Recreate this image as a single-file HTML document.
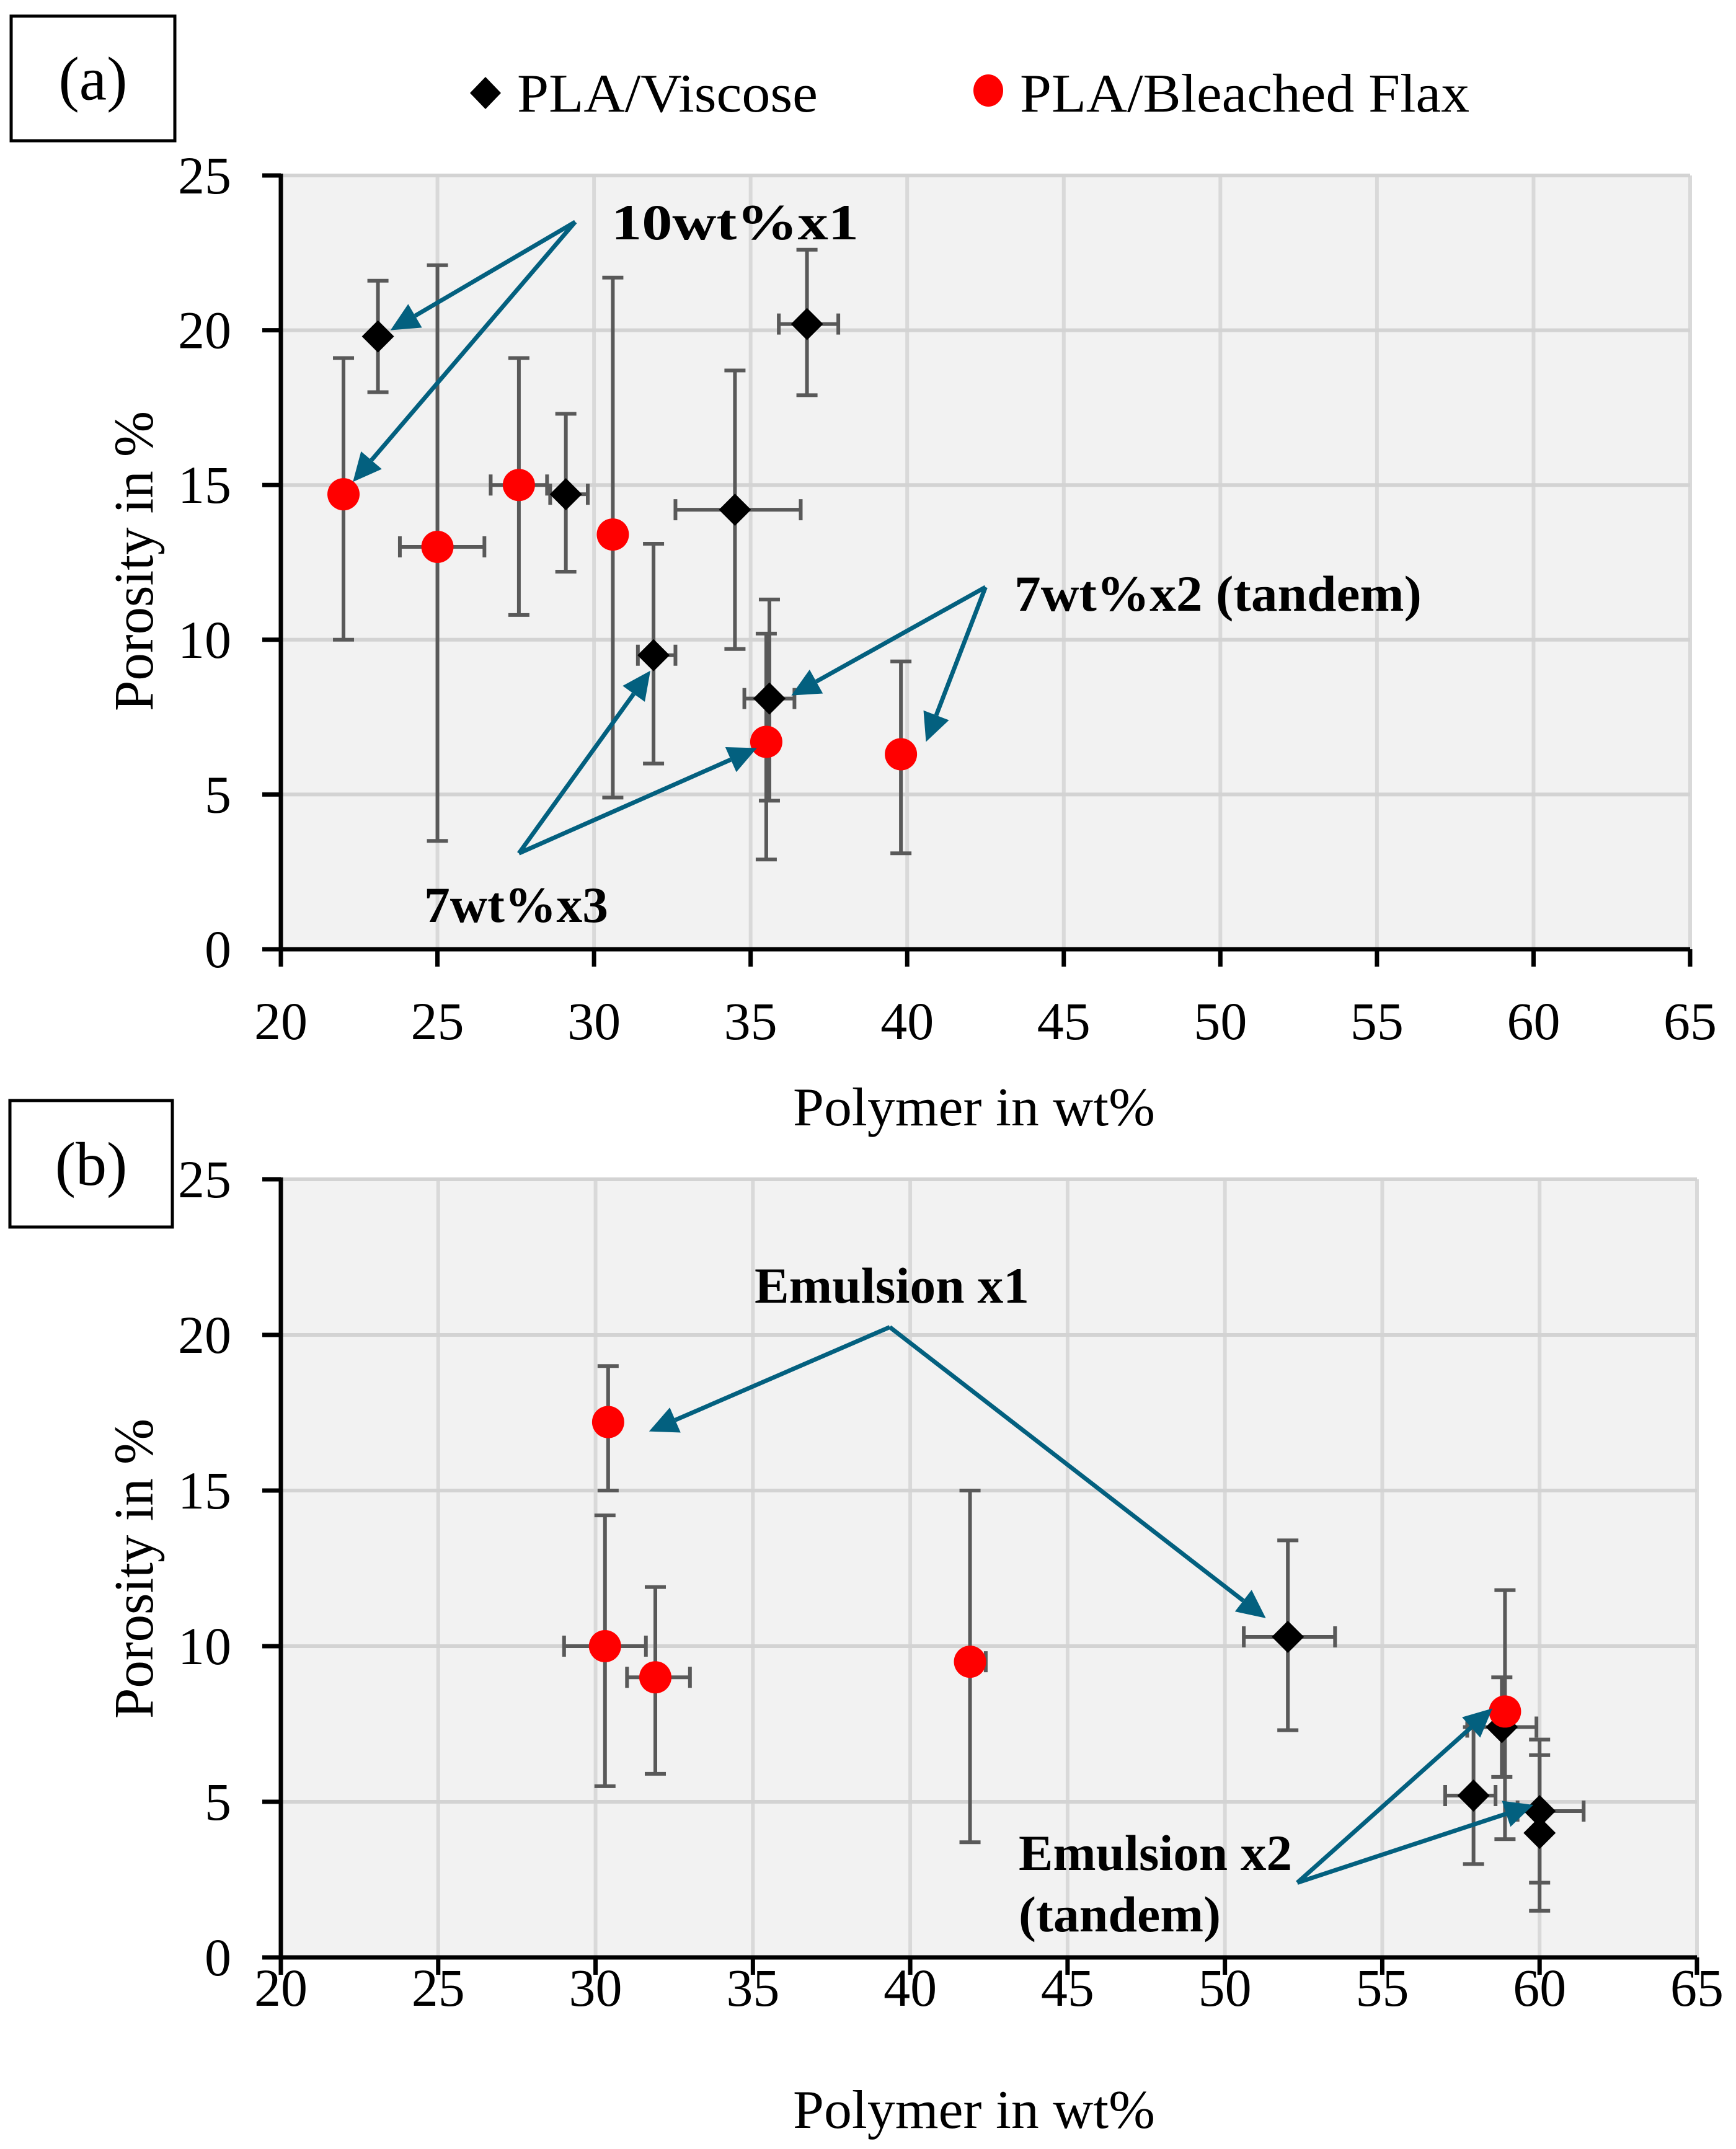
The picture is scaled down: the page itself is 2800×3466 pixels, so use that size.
<!DOCTYPE html>
<html><head><meta charset="utf-8"><style>
html,body{margin:0;padding:0;background:#fff;}
svg{display:block;}
text{font-family:"Liberation Serif",serif;fill:#000;}
</style></head><body>
<svg id="chart" xmlns="http://www.w3.org/2000/svg" width="2800" height="3466" viewBox="0 0 2800 3466"></svg>
<script>
// ---- Panel (a) data ----
const aViscX = [23.1, 36.8, 29.1, 34.5, 31.9, 35.6];
const aViscY = [19.8, 20.2, 14.7, 14.2, 9.5, 8.1];
const aViscXLo = [23.1, 35.9, 28.6, 32.6, 31.4, 34.8];
const aViscXHi = [23.1, 37.8, 29.8, 36.6, 32.6, 36.4];
const aViscYLo = [18.0, 17.9, 12.2, 9.7, 6.0, 4.8];
const aViscYHi = [21.6, 22.6, 17.3, 18.7, 13.1, 11.3];
const aFlaxX = [22.0, 25.0, 27.6, 30.6, 35.5, 39.8];
const aFlaxY = [14.7, 13.0, 15.0, 13.4, 6.7, 6.3];
const aFlaxXLo = [22.0, 23.8, 26.7, 30.6, 35.5, 39.8];
const aFlaxXHi = [22.0, 26.5, 28.5, 30.6, 35.5, 39.8];
const aFlaxYLo = [10.0, 3.5, 10.8, 4.9, 2.9, 3.1];
const aFlaxYHi = [19.1, 22.1, 19.1, 21.7, 10.2, 9.3];
// ---- Panel (b) data ----
const bViscX = [52.0, 58.8, 57.9, 60.0, 60.0];
const bViscY = [10.3, 7.4, 5.2, 4.7, 4.0];
const bViscXLo = [50.6, 57.7, 57.0, 59.3, 60.0];
const bViscXHi = [53.5, 59.9, 58.6, 61.4, 60.0];
const bViscYLo = [7.3, 5.8, 3.0, 2.4, 1.5];
const bViscYHi = [13.4, 9.0, 7.4, 7.0, 6.5];
const bFlaxX = [30.4, 30.3, 31.9, 41.9, 58.9];
const bFlaxY = [17.2, 10.0, 9.0, 9.5, 7.9];
const bFlaxXLo = [30.4, 29.0, 31.0, 41.7, 58.9];
const bFlaxXHi = [30.4, 31.6, 33.0, 42.4, 58.9];
const bFlaxYLo = [15.0, 5.5, 5.9, 3.7, 3.8];
const bFlaxYHi = [19.0, 14.2, 11.9, 15.0, 11.8];
// ---- Ticks ----
const xTicks = [20, 25, 30, 35, 40, 45, 50, 55, 60, 65];
const yTicks = [0, 5, 10, 15, 20, 25];

const NS = "http://www.w3.org/2000/svg";
const svg = document.getElementById('chart');
function mk(tag, attrs, parent) {
  const e = document.createElementNS(NS, tag);
  for (const k in attrs) e.setAttribute(k, attrs[k]);
  (parent || svg).appendChild(e);
  return e;
}
function txt(s, x, y, size, anchor, parent, extra) {
  const t = mk('text', Object.assign({x: x, y: y, 'font-size': size, 'text-anchor': anchor}, extra || {}), parent);
  t.textContent = s;
  return t;
}

function panel(cfg) {
  const g = mk('g', {});
  
  
  const L = cfg.left, R = cfg.right, T = cfg.top, B = cfg.bottom;
  const sx = v => L + (v - 20) / 45 * (R - L);
  const sy = v => B - v / 25 * (B - T);
  const bg = mk('rect', {x: L, y: T, width: R - L, height: B - T, fill: '#f2f2f2'}, g);
  
  
  // grid
  xTicks.forEach(v => {
    if (v === 20) return;
    const l = mk('line', {x1: sx(v), x2: sx(v), y1: T, y2: B, stroke: '#d9d9d9', 'stroke-width': 6}, g);
    
    
  });
  yTicks.forEach(v => {
    if (v === 0) return;
    const l = mk('line', {x1: L, x2: R, y1: sy(v), y2: sy(v), stroke: '#d3d3d3', 'stroke-width': 6}, g);
    
    
  });
  // axes
  const ax = mk('line', {x1: L - 4, x2: R, y1: B, y2: B, stroke: '#000', 'stroke-width': 7}, g);
  
  
  const ay = mk('line', {x1: L, x2: L, y1: T - 3, y2: B + 3, stroke: '#000', 'stroke-width': 7}, g);
  
  
  xTicks.forEach(v => {
    const tk = mk('line', {x1: sx(v), x2: sx(v), y1: B, y2: B + 28, stroke: '#000', 'stroke-width': 7}, g);
    
    
    const t = txt(String(v), sx(v), cfg.xLabelY, 86, 'middle', g);
    
    
  });
  yTicks.forEach(v => {
    const tk = mk('line', {x1: L - 30, x2: L, y1: sy(v), y2: sy(v), stroke: '#000', 'stroke-width': 7}, g);
    
    
    const t = txt(String(v), 373, sy(v) + 29, 86, 'end', g);
    
    
  });
  // titles
  const xt = txt('Polymer  in  wt%', 1571, cfg.xTitleY, 88, 'middle', g, {textLength: 584, lengthAdjust: 'spacingAndGlyphs'});
  
  
  const yt = txt('Porosity  in  %', 0, 0, 90, 'middle', g, {transform: 'translate(246,' + cfg.yTitleC + ') rotate(-90)', textLength: 484, lengthAdjust: 'spacingAndGlyphs'});
  
  
  // label box
  const bx = mk('rect', {x: cfg.box[0], y: cfg.box[1], width: cfg.box[2], height: cfg.box[3], fill: '#fff', stroke: '#000', 'stroke-width': 5}, g);
  
  
  const bl = txt(cfg.label, cfg.box[0] + cfg.box[2] / 2, cfg.box[1] + cfg.box[3] / 2 + 34, 100, 'middle', g);
  
  
  // error bars
  function errs(X, Y, XLo, XHi, YLo, YHi, nm) {
    for (let i = 0; i < X.length; i++) {
      const eg = mk('g', {stroke: '#595959', 'stroke-width': 6, fill: 'none'}, g);
      
      
      const cx = sx(X[i]), cy = sy(Y[i]);
      mk('line', {x1: cx, x2: cx, y1: sy(YLo[i]), y2: sy(YHi[i])}, eg);
      mk('line', {x1: cx - 17, x2: cx + 17, y1: sy(YLo[i]), y2: sy(YLo[i])}, eg);
      mk('line', {x1: cx - 17, x2: cx + 17, y1: sy(YHi[i]), y2: sy(YHi[i])}, eg);
      if (XHi[i] - XLo[i] > 0.01) {
        mk('line', {x1: sx(XLo[i]), x2: sx(XHi[i]), y1: cy, y2: cy}, eg);
        mk('line', {x1: sx(XLo[i]), x2: sx(XLo[i]), y1: cy - 17, y2: cy + 17}, eg);
        mk('line', {x1: sx(XHi[i]), x2: sx(XHi[i]), y1: cy - 17, y2: cy + 17}, eg);
      }
    }
  }
  const d = cfg.data;
  errs(d.vx, d.vy, d.vxl, d.vxh, d.vyl, d.vyh, 'viscose');
  errs(d.fx, d.fy, d.fxl, d.fxh, d.fyl, d.fyh, 'flax');
  for (let i = 0; i < d.vx.length; i++) {
    const cx = sx(d.vx[i]), cy = sy(d.vy[i]);
    const p = mk('polygon', {points: `${cx},${cy-26} ${cx+26},${cy} ${cx},${cy+26} ${cx-26},${cy}`, fill: '#000'}, g);
    
    
  }
  for (let i = 0; i < d.fx.length; i++) {
    const c = mk('ellipse', {cx: sx(d.fx[i]), cy: sy(d.fy[i]), rx: 26, ry: 26, fill: '#ff0000'}, g);
    
    
  }
  // annotations
  cfg.arrows.forEach(a => {
    const x1 = sx(a[0]), y1 = sy(a[1]), x2 = sx(a[2]), y2 = sy(a[3]);
    const ang = Math.atan2(y2 - y1, x2 - x1);
    const hl = 46, hw = 22;
    const bx2 = x2 - hl * Math.cos(ang), by2 = y2 - hl * Math.sin(ang);
    const ag = mk('g', {}, g);
    
    
    mk('line', {x1: x1, y1: y1, x2: bx2, y2: by2, stroke: '#03607f', 'stroke-width': 7}, ag);
    const px = -Math.sin(ang), py = Math.cos(ang);
    mk('polygon', {points: `${x2},${y2} ${bx2+px*hw},${by2+py*hw} ${bx2-px*hw},${by2-py*hw}`, fill: '#03607f'}, ag);
  });
  cfg.notes.forEach(n => {
    const t = txt(n[0], n[1], n[2], 82, 'start', g, {'font-weight': 'bold', textLength: n[3], lengthAdjust: 'spacingAndGlyphs'});
    
    
  });
}

panel({
  name: 'panel-a', left: 453, right: 2726, top: 283, bottom: 1531,
  xLabelY: 1676, xTitleY: 1815, yTitleC: 905, box: [18, 26, 264, 201], label: '(a)',
  data: {vx: aViscX, vy: aViscY, vxl: aViscXLo, vxh: aViscXHi, vyl: aViscYLo, vyh: aViscYHi,
         fx: aFlaxX, fy: aFlaxY, fxl: aFlaxXLo, fxh: aFlaxXHi, fyl: aFlaxYLo, fyh: aFlaxYHi},
  arrows: [[29.4, 23.5, 23.5, 20.0], [29.4, 23.5, 22.3, 15.1],
           [42.5, 11.7, 36.3, 8.2], [42.5, 11.7, 40.6, 6.7],
           [27.6, 3.1, 31.8, 9.0], [27.6, 3.1, 35.2, 6.5]],
  notes: [['10wt%x1', 986, 386, 399], ['7wt%x2 (tandem)', 1636, 985, 657], ['7wt%x3', 684, 1487, 297]]
});
panel({
  name: 'panel-b', left: 453, right: 2737, top: 1902, bottom: 3157,
  xLabelY: 3235, xTitleY: 3432, yTitleC: 2530, box: [16, 1775, 262, 204], label: '(b)',
  data: {vx: bViscX, vy: bViscY, vxl: bViscXLo, vxh: bViscXHi, vyl: bViscYLo, vyh: bViscYHi,
         fx: bFlaxX, fy: bFlaxY, fxl: bFlaxXLo, fxh: bFlaxXHi, fyl: bFlaxYLo, fyh: bFlaxYHi},
  arrows: [[39.35, 20.25, 31.7, 16.9], [39.35, 20.25, 51.3, 10.9],
           [52.3, 2.4, 58.5, 8.0], [52.3, 2.4, 59.8, 4.9]],
  notes: [['Emulsion x1', 1217, 2101, 443], ['Emulsion x2', 1643, 3016, 441], ['(tandem)', 1643, 3115, 326]]
});

// legend
const lg = mk('g', {});


const ld = mk('polygon', {points: '783,124 808,150 783,176 758,150', fill: '#000'}, lg);


const lt1 = txt('PLA/Viscose', 834, 180, 88, 'start', lg, {textLength: 485, lengthAdjust: 'spacingAndGlyphs'});


const lc = mk('ellipse', {cx: 1594, cy: 146, rx: 24, ry: 26, fill: '#ff0000'}, lg);


const lt2 = txt('PLA/Bleached Flax', 1645, 180, 88, 'start', lg, {textLength: 725, lengthAdjust: 'spacingAndGlyphs'});


</script>
</body></html>
